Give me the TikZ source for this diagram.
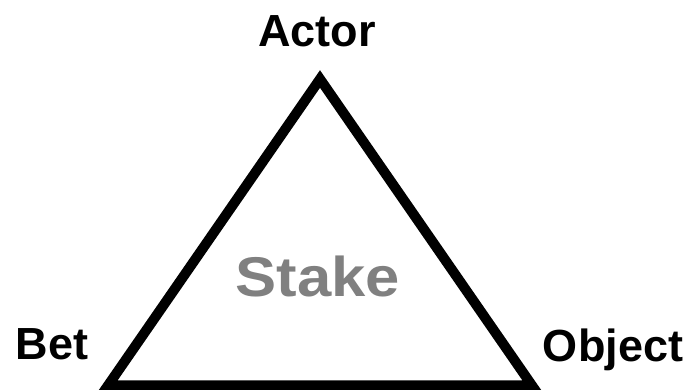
\documentclass[tikz,border=0pt]{standalone}
\usepackage{fontspec}
\setmainfont{Liberation Sans}
\usepackage{xcolor}
\usetikzlibrary{calc}

\begin{document}
\begin{tikzpicture}[x=1pt,y=1pt,
    corner/.style={inner sep=0pt,anchor=base,font=\bfseries\fontsize{45}{50}\selectfont}]
  \useasboundingbox (0,0) rectangle (692,390);
  % corners of the triangle
  \coordinate (top) at (320,311);
  \coordinate (left) at (108,4.5);
  \coordinate (right) at (532,4.5);
  \draw[line width=10pt,miter limit=4] (top) -- (left) -- (right) -- cycle;
  % the labels
  \node[corner] (actor) at (317,343) {Actor};
  \node[corner] (bet) at (52,30) {Bet};
  \node[corner] (object) at (613,28) {Object};
  \node[inner sep=0pt,anchor=base,xscale=1.1,transform shape,color=black!50,
        font=\bfseries\fontsize{56}{60}\selectfont] (stake) at (318,93) {Stake};
\end{tikzpicture}
\end{document}
